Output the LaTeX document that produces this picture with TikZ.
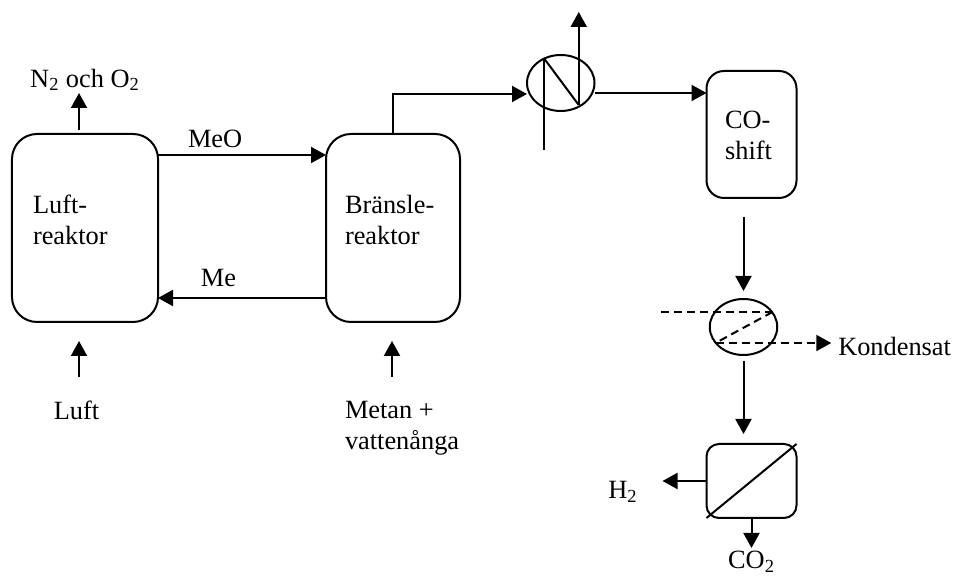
\documentclass[tikz,border=0pt]{standalone}
\usepackage{fontspec}
\setmainfont{Liberation Serif}
\usetikzlibrary{arrows.meta, positioning, shapes.geometric}

\begin{document}
\begin{tikzpicture}[
  box/.style = {draw, line width=0.4mm, outer sep=0pt, inner sep=0pt, rounded corners=0.5cm},
  vessel/.style = {draw, ellipse, line width=0.4mm, outer sep=0pt, inner sep=0pt, minimum width=1.35cm, minimum height=1.12cm},
  line/.style = {line width=0.4mm, -{Triangle[length=3mm, width=3.2mm]}},
  plain/.style = {line width=0.4mm},
  dashline/.style = {dash pattern=on 1.6mm off 1mm},
  signal/.style = {font=\fontsize{15}{17.6}\selectfont, inner sep=0pt, outer sep=0pt, align=left}
]
  \useasboundingbox (0,0) rectangle (19.1,11.52);

  % Nodes
  \node[box, minimum width=2.92cm, minimum height=3.76cm] (luftreaktor) at (1.7,6.96) {};
  \node[box, minimum width=2.68cm, minimum height=3.76cm, right=3.36cm of luftreaktor] (branslereaktor) {};
  \node[vessel, right=1.34cm of branslereaktor, yshift=2.9cm] (kylare) {};
  \node[box, minimum width=1.8cm, minimum height=2.54cm, rounded corners=0.35cm, right=2.24cm of kylare, yshift=-1.03cm] (coshift) {};
  \node[vessel, below=2.02cm of coshift, xshift=-0.16cm] (kondensor) {};
  \node[box, minimum width=1.8cm, minimum height=1.48cm, rounded corners=0.25cm, below=1.78cm of kondensor, xshift=0.16cm] (membran) {};

  % Labels
  \node[signal, right=0.42cm of luftreaktor.west, yshift=0.16cm] (luftlabel) {Luft-\\reaktor};
  \node[signal, right=0.38cm of branslereaktor.west, yshift=0.16cm] (branslelabel) {Bränsle-\\reaktor};
  \node[signal, at=(coshift.center), xshift=-0.06cm, yshift=-0.02cm] (colabel) {CO-\\shift};
  \node[signal, above=0.86cm of luftreaktor.north, anchor=south] (n2label) {N\textsubscript{2} och O\textsubscript{2}};
  \node[signal, below=1.58cm of luftreaktor.south, xshift=-0.17cm, anchor=north] (luftin) {Luft};
  \node[signal, below=1.58cm of branslereaktor.south, xshift=-0.96cm, anchor=north west] (metanin) {Metan +\\vattenånga};
  \node[signal, right=1.22cm of kondensor.east, yshift=-0.38cm, anchor=west] (kondensat) {Kondensat};
  \node[signal, left=1.38cm of membran.west, yshift=-0.22cm, anchor=east] (h2label) {H\textsubscript{2}};
  \node[signal, below=0.66cm of membran.south, anchor=north] (co2label) {CO\textsubscript{2}};

  % Connections
  \draw[line] ([yshift=1.46cm]luftreaktor.east) -- node[signal, above=0.14cm, pos=0.34]{MeO} ([yshift=1.46cm]branslereaktor.west);
  \draw[line] ([yshift=-1.4cm]branslereaktor.west) -- node[signal, above=0.22cm, pos=0.64]{Me} ([yshift=-1.4cm]luftreaktor.east);
  \draw[line] ([xshift=-0.12cm,yshift=0.08cm]luftreaktor.north) -- ([xshift=-0.12cm,yshift=0.82cm]luftreaktor.north);
  \draw[line] ([xshift=-0.12cm,yshift=-1.1cm]luftreaktor.south) -- ([xshift=-0.12cm,yshift=-0.38cm]luftreaktor.south);
  \draw[line] ([xshift=-0.02cm,yshift=-1.1cm]branslereaktor.south) -- ([xshift=-0.02cm,yshift=-0.38cm]branslereaktor.south);

  % Fuel reactor -> cooler -> CO shift
  \draw[line] (branslereaktor.north) |- ([yshift=-0.22cm]kylare.west);
  \draw[line] ([yshift=-0.2cm]kylare.east) -- ([yshift=0.83cm]coshift.west);
  \draw[plain] ([shift={(-0.34,0.5)}]kylare.center) coordinate (kyltopp) -- ++(0,-1.84) coordinate (kylin);
  \draw[plain] (kyltopp) -- ([shift={(0.36,-0.44)}]kylare.center) coordinate (kylbotten);
  \draw[line] (kylbotten) -- ++(0,1.86) coordinate (kylut);

  % CO shift -> condenser -> membrane
  \draw[line] ([yshift=1.64cm]kondensor.north) -- ([yshift=0.16cm]kondensor.north);
  \draw[plain, dashline] ([shift={(0.58,0.3)}]kondensor.center) coordinate (kondtopp) -- ++(-2.26,0) coordinate (kondvanster);
  \draw[plain, dashline] (kondtopp) -- ([shift={(-0.56,-0.32)}]kondensor.center) coordinate (kondbotten);
  \draw[line, dashline] (kondbotten) -- ([xshift=-0.14cm]kondbotten -| kondensat.west);
  \draw[line] ([yshift=-0.12cm]kondensor.south) -- ([xshift=-0.16cm,yshift=0.2cm]membran.north);
  \draw[plain] (membran.south west) -- (membran.north east);
  \draw[line] (membran.west) -- ([xshift=-0.88cm]membran.west);
  \draw[line] (membran.south) -- ([yshift=-0.6cm]membran.south);

\end{tikzpicture}
\end{document}
